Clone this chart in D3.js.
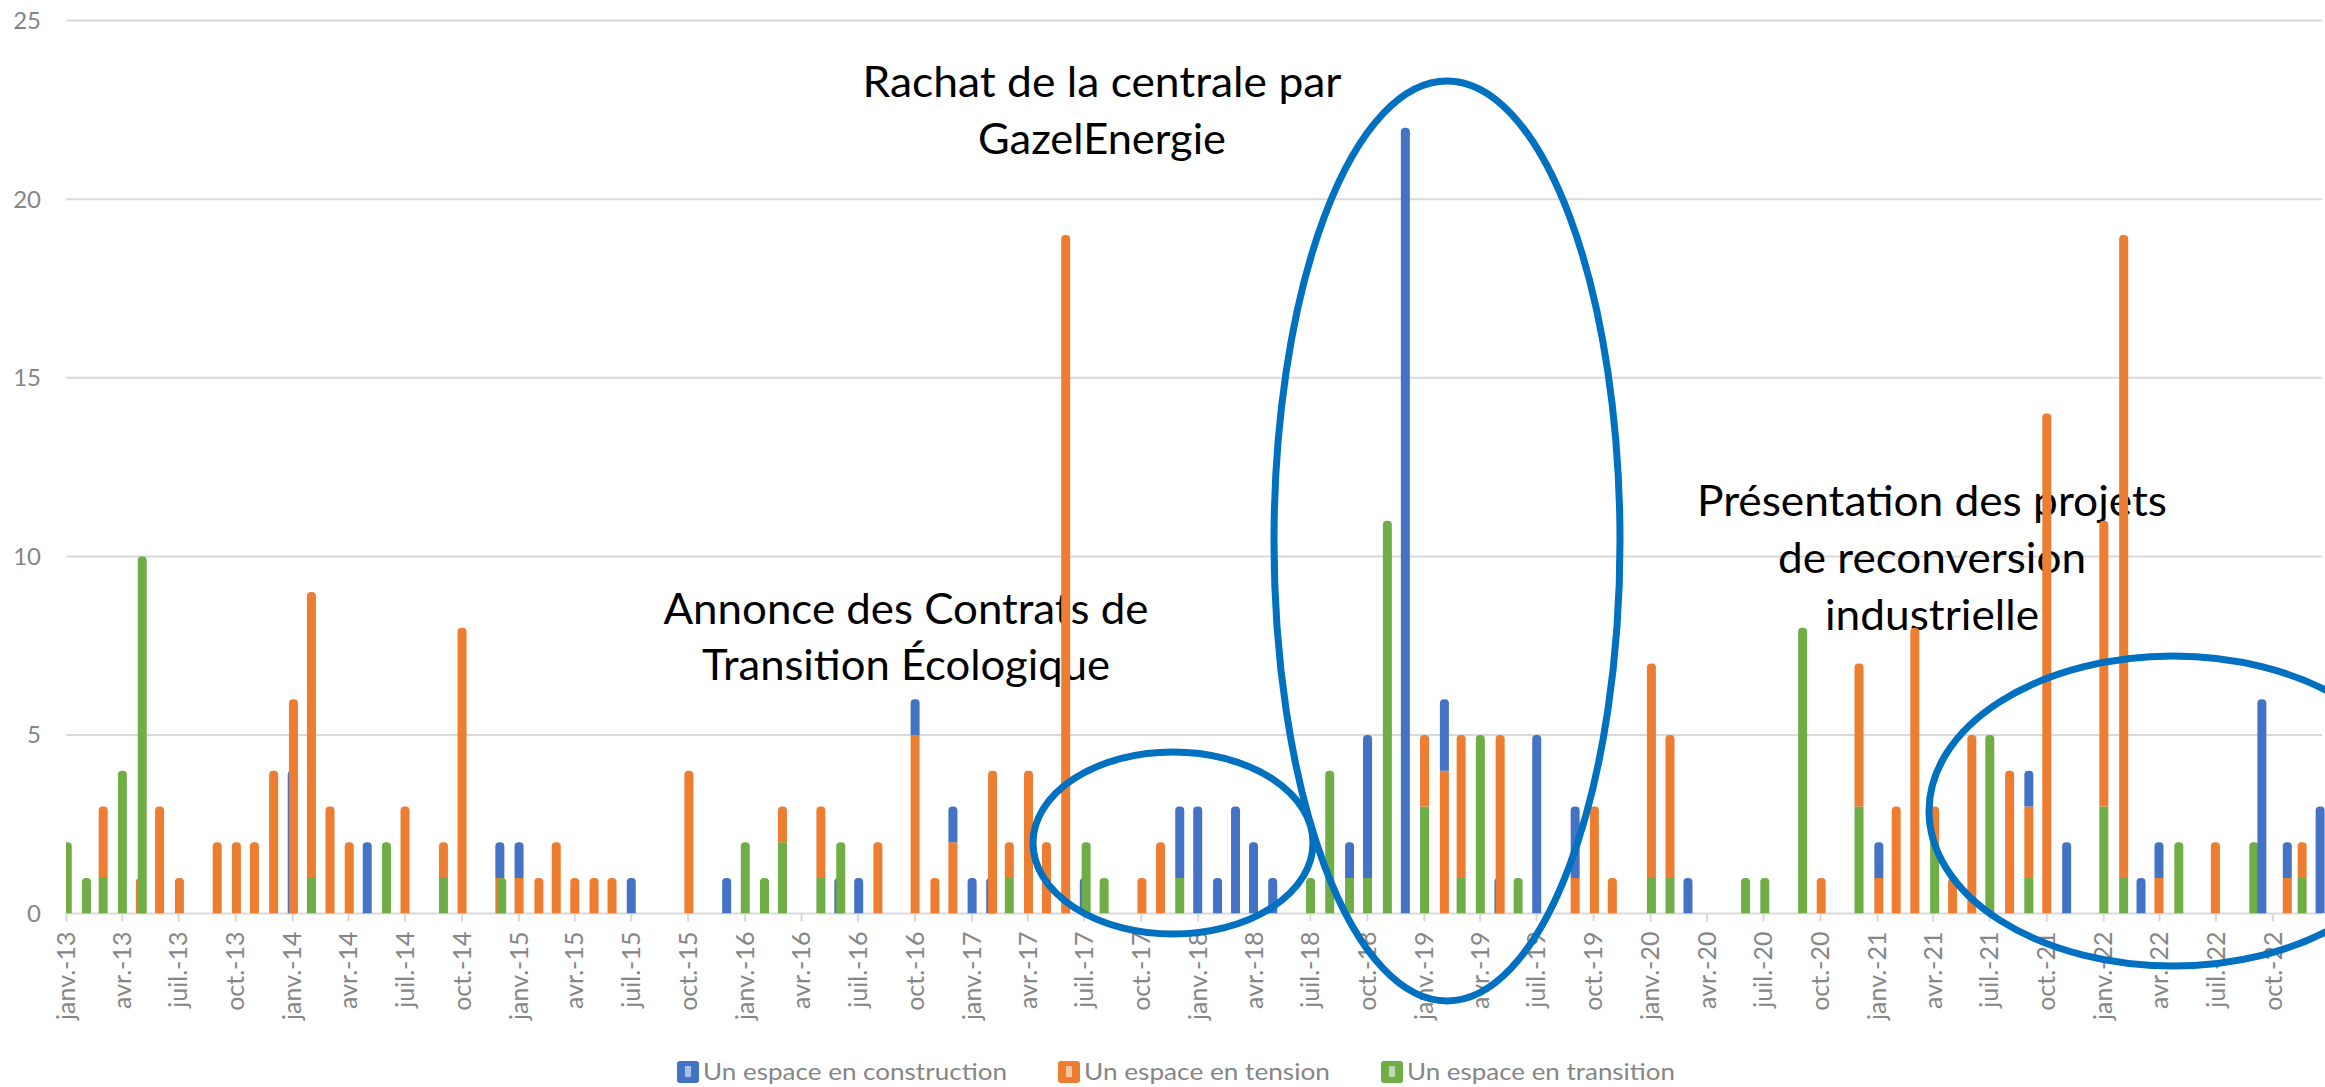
<!DOCTYPE html>
<html>
<head>
<meta charset="utf-8">
<script src="https://cdn.jsdelivr.net/npm/d3@7"></script>
<style>
  html, body { margin: 0; padding: 0; background: #fff; }
  svg { display: block; }
</style>
</head>
<body>
<div id="chart"></div>
<script>
// one entry per article date, values per category
const dates = [
  "2013-01-03", "2013-02-03", "2013-03-02", "2013-04-02", "2013-05-01", "2013-05-04", "2013-06-01", "2013-07-03",
  "2013-09-02", "2013-10-03", "2013-11-01", "2013-12-02", "2014-01-01", "2014-01-03", "2014-02-01", "2014-03-03",
  "2014-04-03", "2014-05-02", "2014-06-02", "2014-07-02", "2014-09-02", "2014-10-02", "2014-12-02", "2014-12-05",
  "2015-01-02", "2015-02-03", "2015-03-03", "2015-04-02", "2015-05-03", "2015-06-01", "2015-07-02", "2015-10-03",
  "2015-12-03", "2016-01-02", "2016-02-02", "2016-03-02", "2016-05-03", "2016-06-01", "2016-06-04", "2016-07-03",
  "2016-08-03", "2016-10-02", "2016-11-03", "2016-12-02", "2017-01-02", "2017-02-01", "2017-02-04", "2017-03-03",
  "2017-04-03", "2017-05-02", "2017-06-02", "2017-07-02", "2017-07-05", "2017-08-03", "2017-10-03", "2017-11-02",
  "2017-12-03", "2018-01-01", "2018-02-02", "2018-03-03", "2018-04-01", "2018-05-02", "2018-07-02", "2018-08-02",
  "2018-09-03", "2018-10-02", "2018-11-03", "2018-12-02", "2019-01-02", "2019-02-03", "2019-03-02", "2019-04-02",
  "2019-05-02", "2019-05-04", "2019-06-02", "2019-07-02", "2019-09-02", "2019-10-03", "2019-11-01", "2020-01-03",
  "2020-02-02", "2020-03-02", "2020-06-03", "2020-07-04", "2020-09-03", "2020-10-03", "2020-12-03", "2021-01-04",
  "2021-02-01", "2021-03-03", "2021-04-04", "2021-05-03", "2021-06-03", "2021-07-02", "2021-08-03", "2021-09-03",
  "2021-10-02", "2021-11-03", "2022-01-02", "2022-02-03", "2022-03-03", "2022-04-01", "2022-05-03", "2022-07-01",
  "2022-09-01", "2022-09-14", "2022-10-25", "2022-11-18", "2022-12-17"
];

const transition = [
  2, 1, 1, 4, 0, 10, 0, 0,
  0, 0, 0, 0, 0, 0, 1, 0,
  0, 0, 2, 0, 1, 0, 0, 1,
  0, 0, 0, 0, 0, 0, 0, 0,
  0, 2, 1, 2, 1, 0, 2, 0,
  0, 0, 0, 0, 0, 0, 0, 1,
  0, 0, 0, 0, 2, 1, 0, 0,
  1, 0, 0, 0, 0, 0, 1, 4,
  1, 1, 11, 0, 3, 0, 1, 5,
  0, 0, 1, 0, 0, 0, 0, 1,
  1, 0, 1, 1, 8, 0, 3, 0,
  0, 0, 2, 0, 0, 5, 0, 1,
  0, 0, 3, 1, 0, 0, 2, 0,
  2, 0, 0, 1, 0
];

const tension = [
  0, 0, 2, 0, 1, 0, 3, 1,
  2, 2, 2, 4, 0, 6, 8, 3,
  2, 0, 0, 3, 1, 8, 1, 0,
  1, 1, 2, 1, 1, 1, 0, 4,
  0, 0, 0, 1, 2, 0, 0, 0,
  2, 5, 1, 2, 0, 0, 4, 1,
  4, 2, 19, 0, 0, 0, 1, 2,
  0, 0, 0, 0, 0, 0, 0, 0,
  0, 0, 0, 0, 2, 4, 4, 0,
  0, 5, 0, 0, 1, 3, 1, 6,
  4, 0, 0, 0, 0, 1, 4, 1,
  3, 8, 1, 1, 5, 0, 4, 2,
  14, 0, 8, 18, 0, 1, 0, 2,
  0, 0, 1, 1, 0
];

const construction = [
  0, 0, 0, 0, 0, 0, 0, 0,
  0, 0, 0, 0, 4, 0, 0, 0,
  0, 2, 0, 0, 0, 0, 1, 0,
  1, 0, 0, 0, 0, 0, 1, 0,
  1, 0, 0, 0, 0, 1, 0, 1,
  0, 1, 0, 1, 1, 1, 0, 0,
  0, 0, 0, 1, 0, 0, 0, 0,
  2, 3, 1, 3, 2, 1, 0, 0,
  1, 4, 0, 22, 0, 2, 0, 0,
  1, 0, 0, 5, 2, 0, 0, 0,
  0, 1, 0, 0, 0, 0, 0, 1,
  0, 0, 0, 0, 0, 0, 0, 1,
  0, 2, 0, 0, 1, 1, 0, 0,
  0, 6, 1, 0, 3
];

const seriesNames = ["Un espace en construction", "Un espace en tension", "Un espace en transition"];
const yTicks = [0, 5, 10, 15, 20, 25];
const tickMonthNames = ["janv.", "avr.", "juil.", "oct."];

const colors = { construction: "#4472C4", tension: "#ED7D31", transition: "#70AD47" };
const stackKeys = ["transition", "tension", "construction"]; // bottom to top

const width = 2325, height = 1087;
const plotLeft = 66, plotRight = 2322, plotTop = 20.6, plotBottom = 913.6;
const barWidth = 9;
const gridColor = "#D9D9D9";
const labelColor = "#868686";
const font = "Lato, 'Open Sans', sans-serif";

const parseDate = d3.utcParse("%Y-%m-%d");

const table = dates.map((d, i) => ({
  date: parseDate(d),
  transition: transition[i],
  tension: tension[i],
  construction: construction[i]
}));

const stacked = d3.stack().keys(stackKeys)(table);

const x = d3.scaleUtc()
  .domain([parseDate("2013-01-01"), parseDate("2022-12-20")])
  .range([plotLeft, plotRight]);

const y = d3.scaleLinear()
  .domain([0, 25])
  .range([plotBottom, plotTop]);

const svg = d3.select("#chart").append("svg")
  .attr("width", width)
  .attr("height", height)
  .attr("viewBox", `0 0 ${width} ${height}`);

svg.append("rect").attr("width", width).attr("height", height).attr("fill", "#fff");

svg.append("clipPath").attr("id", "plot-clip")
  .append("rect")
  .attr("x", plotLeft).attr("y", 0)
  .attr("width", width - plotLeft).attr("height", plotBottom);

// gridlines
svg.append("g")
  .selectAll("line")
  .data(yTicks.filter(d => d > 0))
  .enter().append("line")
  .attr("x1", plotLeft).attr("x2", plotRight)
  .attr("y1", d => y(d)).attr("y2", d => y(d))
  .attr("stroke", gridColor)
  .attr("stroke-width", 2);

// y labels
svg.append("g")
  .selectAll("text")
  .data(yTicks)
  .enter().append("text")
  .attr("x", 41)
  .attr("y", d => y(d))
  .attr("dy", "0.35em")
  .attr("text-anchor", "end")
  .attr("font-family", font)
  .attr("font-size", 24)
  .attr("fill", labelColor)
  .text(d => d);

// x axis with quarterly ticks
const xAxis = d3.axisBottom(x)
  .ticks(d3.utcMonth.every(3))
  .tickSize(8)
  .tickFormat(d => tickMonthNames[d.getUTCMonth() / 3] + "-" + d3.utcFormat("%y")(d));

const axisG = svg.append("g")
  .attr("transform", `translate(0,${plotBottom})`)
  .call(xAxis);

axisG.select(".domain").remove();
axisG.selectAll(".tick line").attr("stroke", gridColor).attr("stroke-width", 2);
axisG.selectAll(".tick text")
  .attr("transform", "rotate(-90)")
  .attr("x", -18)
  .attr("y", 0)
  .attr("dy", "0.35em")
  .attr("text-anchor", "end")
  .attr("font-family", font)
  .attr("font-size", 25)
  .attr("fill", labelColor);

svg.append("line")
  .attr("x1", plotLeft).attr("x2", plotRight)
  .attr("y1", plotBottom).attr("y2", plotBottom)
  .attr("stroke", gridColor)
  .attr("stroke-width", 2);

// annotation texts (drawn under the bars, like the original)
const notes = [
  { cx: 1102, lines: [["Rachat de la centrale par", 97, 479], ["GazelEnergie", 154, 248]] },
  { cx: 906, lines: [["Annonce des Contrats de", 624, 485], ["Transition Écologique", 680, 408]] },
  { cx: 1932, lines: [["Présentation des projets", 516, 470], ["de reconversion", 573, 308], ["industrielle", 630, 214]] }
];

notes.forEach(n => {
  n.lines.forEach(([txt, by, w]) => {
    svg.append("text")
      .attr("x", n.cx - w / 2)
      .attr("y", by)
      .attr("textLength", w)
      .attr("lengthAdjust", "spacingAndGlyphs")
      .attr("font-family", font)
      .attr("font-size", 42)
      .attr("fill", "#000")
      .text(txt);
  });
});

// bars: path with rounded top for the highest segment
function barPath(x0, yBottom, yTop, w, r) {
  if (yBottom - yTop < r) r = (yBottom - yTop);
  return `M${x0},${yBottom}V${yTop + r}Q${x0},${yTop} ${x0 + r},${yTop}H${x0 + w - r}Q${x0 + w},${yTop} ${x0 + w},${yTop + r}V${yBottom}Z`;
}

const barsG = svg.append("g").attr("clip-path", "url(#plot-clip)");

table.forEach((row, i) => {
  const segs = stackKeys
    .map((k, j) => ({ key: k, y0: stacked[j][i][0], y1: stacked[j][i][1] }))
    .filter(s => s.y1 > s.y0);
  const cx = x(row.date);
  const g = barsG.append("g");
  g.selectAll("path")
    .data(segs)
    .enter().append("path")
    .attr("fill", d => colors[d.key])
    .attr("d", (d, j) => barPath(cx - barWidth / 2, y(d.y0), y(d.y1), barWidth, j === segs.length - 1 ? 4 : 0));
});

// highlight ellipses
const ellipses = [
  { cx: 1173, cy: 843, rx: 140, ry: 91 },
  { cx: 1447, cy: 541, rx: 173, ry: 460 },
  { cx: 2173, cy: 811, rx: 244, ry: 155 }
];

svg.append("g")
  .selectAll("ellipse")
  .data(ellipses)
  .enter().append("ellipse")
  .attr("cx", d => d.cx).attr("cy", d => d.cy)
  .attr("rx", d => d.rx).attr("ry", d => d.ry)
  .attr("fill", "none")
  .attr("stroke", "#0070C0")
  .attr("stroke-width", 7);

// legend
const legendItems = [
  { key: "construction", name: seriesNames[0], x: 677, w: 304 },
  { key: "tension", name: seriesNames[1], x: 1058, w: 246 },
  { key: "transition", name: seriesNames[2], x: 1381, w: 268 }
];

const legend = svg.append("g");
legendItems.forEach(item => {
  legend.append("rect")
    .attr("x", item.x).attr("y", 1061)
    .attr("width", 22).attr("height", 22)
    .attr("rx", 3)
    .attr("fill", colors[item.key]);
  legend.append("rect")
    .attr("x", item.x + 8).attr("y", 1066)
    .attr("width", 6).attr("height", 11)
    .attr("fill", "#fff").attr("opacity", 0.55);
  legend.append("text")
    .attr("x", item.x + 26)
    .attr("y", 1080)
    .attr("textLength", item.w)
    .attr("lengthAdjust", "spacingAndGlyphs")
    .attr("font-family", font)
    .attr("font-size", 24)
    .attr("fill", labelColor)
    .text(item.name);
});
</script>
</body>
</html>
